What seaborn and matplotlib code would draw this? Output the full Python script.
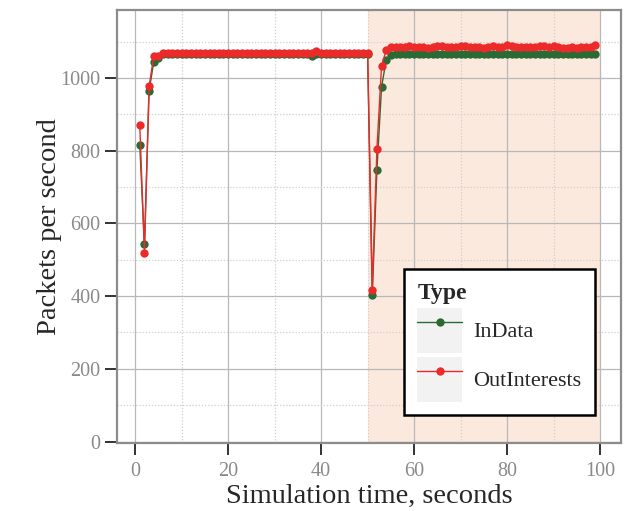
import numpy as np
import pandas as pd
import matplotlib
matplotlib.use("Agg")
import matplotlib.pyplot as plt
import seaborn as sns
from matplotlib.ticker import MultipleLocator
from matplotlib.lines import Line2D
from matplotlib.patches import Rectangle
from matplotlib.legend_handler import HandlerLine2D

# ---- data ----
time_s = list(range(1, 100))

in_data = ([815, 542, 964, 1044, 1055] + [1067] * 32 + [1060] + [1067] * 12
           + [403, 747, 975, 1050, 1064] + [1067] * 44)

out_interests = ([870, 519, 977, 1060, 1061] + [1069] * 33 + [1073] + [1069] * 11
                 + [417, 805, 1034, 1076, 1085]
                 + [1084, 1086, 1085, 1087, 1085, 1084, 1086, 1083, 1085, 1088,
                    1087, 1086, 1085, 1084, 1087, 1089, 1086, 1084, 1085, 1083,
                    1086, 1087, 1084, 1086, 1090, 1088, 1085, 1084, 1086, 1085,
                    1084, 1087, 1089, 1086, 1088, 1085, 1083, 1082, 1084, 1083,
                    1085, 1084, 1086, 1092])

series_names = ["InData", "OutInterests"]
series_colors = ["#2a6a35", "#ec2a2a"]
x_ticks = [0, 20, 40, 60, 80, 100]
y_ticks = [0, 200, 400, 600, 800, 1000]
shade_range = (50, 100)

df = pd.DataFrame({
    "Time": time_s * 2,
    "Value": in_data + out_interests,
    "Type": [series_names[0]] * len(time_s) + [series_names[1]] * len(time_s),
})

# ---- style ----
sns.set_style("white")
plt.rcParams["font.family"] = ["Liberation Serif", "DejaVu Serif"]

fig = plt.figure(figsize=(6.31, 5.11), dpi=100)
ax = fig.add_axes([117 / 631, 1 - 443 / 511, 504 / 631, 433 / 511])

ax.axvspan(shade_range[0], shade_range[1], color="#f9c9ad", alpha=0.4,
           lw=0, zorder=0.1)

sns.lineplot(data=df, x="Time", y="Value", hue="Type",
             palette=dict(zip(series_names, series_colors)),
             marker="o", markersize=6, markeredgewidth=0, linewidth=1.0,
             legend=False, ax=ax, zorder=3)

ax.set_xlim(-3.9, 104.5)
ax.set_ylim(-4, 1187)
ax.set_xticks(x_ticks)
ax.set_yticks(y_ticks)
ax.xaxis.set_minor_locator(MultipleLocator(10))
ax.yaxis.set_minor_locator(MultipleLocator(100))
ax.set_axisbelow(True)
ax.grid(which="major", color="#b8b8b8", linewidth=0.9, linestyle="-")
ax.grid(which="minor", color="#cfcfcf", linewidth=0.9, linestyle=(0, (1, 1.5)))

ax.tick_params(which="major", direction="out", length=8.5, width=1.4,
               color="#333333", labelcolor="#8a8a8a", labelsize=14.5, pad=3.5,
               bottom=True, left=True)
ax.tick_params(which="minor", length=0, bottom=False, left=False)
ax.tick_params(axis="x", pad=5)

for sp in ax.spines.values():
    sp.set_color("#8c8c8c")
    sp.set_linewidth(1.6)

ax.set_xlabel("Simulation time, seconds", fontsize=20.5, labelpad=2)
ax.set_ylabel("Packets per second", fontsize=20.5, labelpad=-1)


class KeyHandler(HandlerLine2D):
    def create_artists(self, legend, orig_handle, xdescent, ydescent,
                       width, height, fontsize, trans):
        rect = Rectangle((-xdescent, -ydescent), width, height,
                         facecolor="#f2f2f2", edgecolor="none", transform=trans)
        arts = super().create_artists(legend, orig_handle, xdescent, ydescent,
                                      width, height, fontsize, trans)
        for a in arts:
            xd = a.get_xdata()
            if len(xd) == 2:
                a.set_xdata([xd[0] + 3, xd[1] - 3])
        return [rect] + arts


handles = [Line2D([0], [0], color=c, lw=1.0, marker="o", markersize=6,
                  markeredgewidth=0) for c in series_colors]
leg = ax.legend(handles, series_names, title="Type",
                loc="lower left", bbox_to_anchor=(404 / 631, 1 - 415 / 511),
                bbox_transform=fig.transFigure,
                fontsize=16, title_fontproperties={"weight": "bold", "size": 17},
                handlelength=2.03, handleheight=2.74, handletextpad=0.5,
                labelspacing=0.18, borderpad=0.6, borderaxespad=0,
                frameon=True, fancybox=False, numpoints=1,
                handler_map={Line2D: KeyHandler()})
leg._legend_box.align = "left"
frame = leg.get_frame()
frame.set_edgecolor("black")
frame.set_linewidth(1.8)
frame.set_facecolor("white")
frame.set_alpha(1)
leg.set_zorder(10)

fig.savefig("out.png", dpi=100)
